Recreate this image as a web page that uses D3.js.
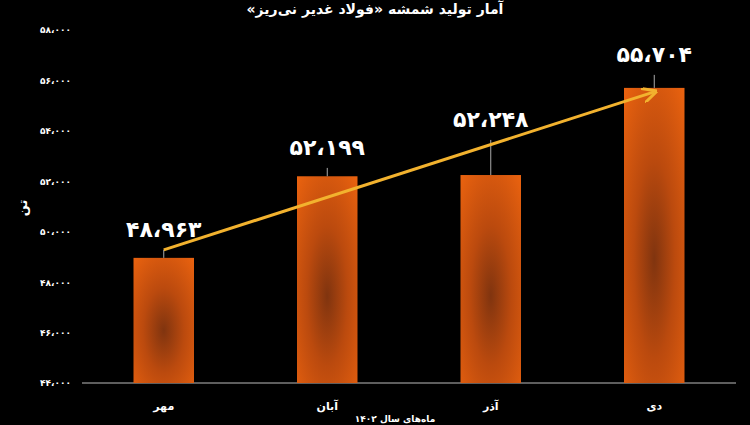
<!DOCTYPE html>
<html>
<head>
<meta charset="utf-8">
<script src="https://cdn.jsdelivr.net/npm/d3@7/dist/d3.min.js"></script>
<style>
  html, body { margin: 0; padding: 0; background: #000; }
  svg { display: block; }
</style>
</head>
<body>
<script>
const width = 750;
const height = 425;

// data
const months = ["مهر", "آبان", "آذر", "دی"];
const production = [48963, 52199, 52248, 55704];
const errorTops = [49280, 52530, 53640, 56220];
const yTicks = [44000, 46000, 48000, 50000, 52000, 54000, 56000, 58000];
const titleText = "آمار تولید شمشه «فولاد غدیر نی‌ریز»";
const yLabel = "تن";
const xLabel = "ماه‌های سال ۱۴۰۲";

const faDigits = "۰۱۲۳۴۵۶۷۸۹";
function toFa(n) {
  const s = d3.format(",")(n).replace(/,/g, "،");
  return s.replace(/[0-9]/g, d => faDigits[+d]);
}

const svg = d3.select("body").append("svg")
  .attr("width", width)
  .attr("height", height)
  .style("background", "#000");

const defs = svg.append("defs");
const grad = defs.append("radialGradient")
  .attr("id", "barGrad")
  .attr("cx", "50%").attr("cy", "58%").attr("r", "75%");
grad.append("stop").attr("offset", "0%").attr("stop-color", "#80340f");
grad.append("stop").attr("offset", "45%").attr("stop-color", "#bb4a0e");
grad.append("stop").attr("offset", "100%").attr("stop-color", "#e9620f");

const marker = defs.append("marker")
  .attr("id", "arrowHead")
  .attr("viewBox", "0 0 10 10")
  .attr("refX", 8).attr("refY", 5)
  .attr("markerWidth", 5).attr("markerHeight", 5)
  .attr("orient", "auto");
marker.append("path")
  .attr("d", "M0,0 L10,5 L0,10")
  .attr("fill", "none")
  .attr("stroke", "#f2b22e")
  .attr("stroke-width", 2);

const x = d3.scaleBand()
  .domain(months)
  .range([82, 736])
  .paddingInner(0.63)
  .paddingOuter(0.315);

const y = d3.scaleLinear()
  .domain([44000, 58000])
  .range([383, 30]);

// y axis tick labels
const yAxis = svg.append("g")
  .attr("transform", "translate(71,0)")
  .call(d3.axisLeft(y).tickValues(yTicks).tickFormat(toFa).tickSize(0).tickPadding(0));
yAxis.select(".domain").remove();
yAxis.selectAll("text")
  .attr("fill", "#fff")
  .attr("font-family", "DejaVu Sans")
  .attr("font-weight", "bold")
  .attr("font-size", 9);

// baseline
svg.append("line")
  .attr("x1", 82).attr("x2", 736)
  .attr("y1", y(44000)).attr("y2", y(44000))
  .attr("stroke", "#bbb")
  .attr("stroke-width", 1);

// bars
svg.selectAll("rect.bar")
  .data(months)
  .enter().append("rect")
  .attr("class", "bar")
  .attr("x", d => x(d))
  .attr("width", x.bandwidth())
  .attr("y", (d, i) => y(production[i]))
  .attr("height", (d, i) => y(44000) - y(production[i]))
  .attr("fill", "url(#barGrad)");

// error lines
svg.selectAll("line.err")
  .data(months)
  .enter().append("line")
  .attr("class", "err")
  .attr("x1", d => x(d) + x.bandwidth() / 2)
  .attr("x2", d => x(d) + x.bandwidth() / 2)
  .attr("y1", (d, i) => y(production[i]))
  .attr("y2", (d, i) => y(errorTops[i]))
  .attr("stroke", "#aaa")
  .attr("stroke-width", 1);

// value labels
svg.selectAll("text.val")
  .data(months)
  .enter().append("text")
  .attr("class", "val")
  .attr("x", d => x(d) + x.bandwidth() / 2)
  .attr("y", (d, i) => y(errorTops[i]) - 13)
  .attr("text-anchor", "middle")
  .attr("fill", "#fff")
  .attr("font-family", "DejaVu Sans")
  .attr("font-weight", "bold")
  .attr("font-size", 22)
  .text((d, i) => toFa(production[i]));

// trend arrow
svg.append("line")
  .attr("x1", x(months[0]) + x.bandwidth() / 2)
  .attr("y1", y(errorTops[0]))
  .attr("x2", x(months[3]) + x.bandwidth() / 2)
  .attr("y2", y(production[3]) + 4)
  .attr("stroke", "#f2b22e")
  .attr("stroke-width", 3)
  .attr("marker-end", "url(#arrowHead)");

// x labels
svg.selectAll("text.xl")
  .data(months)
  .enter().append("text")
  .attr("class", "xl")
  .attr("x", d => x(d) + x.bandwidth() / 2)
  .attr("y", 410)
  .attr("text-anchor", "middle")
  .attr("fill", "#fff")
  .attr("font-family", "DejaVu Sans")
  .attr("font-weight", "bold")
  .attr("font-size", 11)
  .text(d => d);

// title
svg.append("text")
  .attr("x", 375)
  .attr("y", 14)
  .attr("text-anchor", "middle")
  .attr("direction", "rtl")
  .style("unicode-bidi", "embed")
  .attr("fill", "#fff")
  .attr("font-family", "DejaVu Sans")
  .attr("font-weight", "bold")
  .attr("font-size", 14)
  .text(titleText);

// y label
svg.append("text")
  .attr("transform", "translate(27,208) rotate(-90)")
  .attr("text-anchor", "middle")
  .attr("fill", "#fff")
  .attr("font-family", "DejaVu Sans")
  .attr("font-weight", "bold")
  .attr("font-size", 13)
  .text(yLabel);

// x title
svg.append("text")
  .attr("x", 395)
  .attr("y", 422)
  .attr("text-anchor", "middle")
  .attr("direction", "rtl")
  .attr("fill", "#fff")
  .attr("font-family", "DejaVu Sans")
  .attr("font-weight", "bold")
  .attr("font-size", 9)
  .text(xLabel);
</script>
</body>
</html>
